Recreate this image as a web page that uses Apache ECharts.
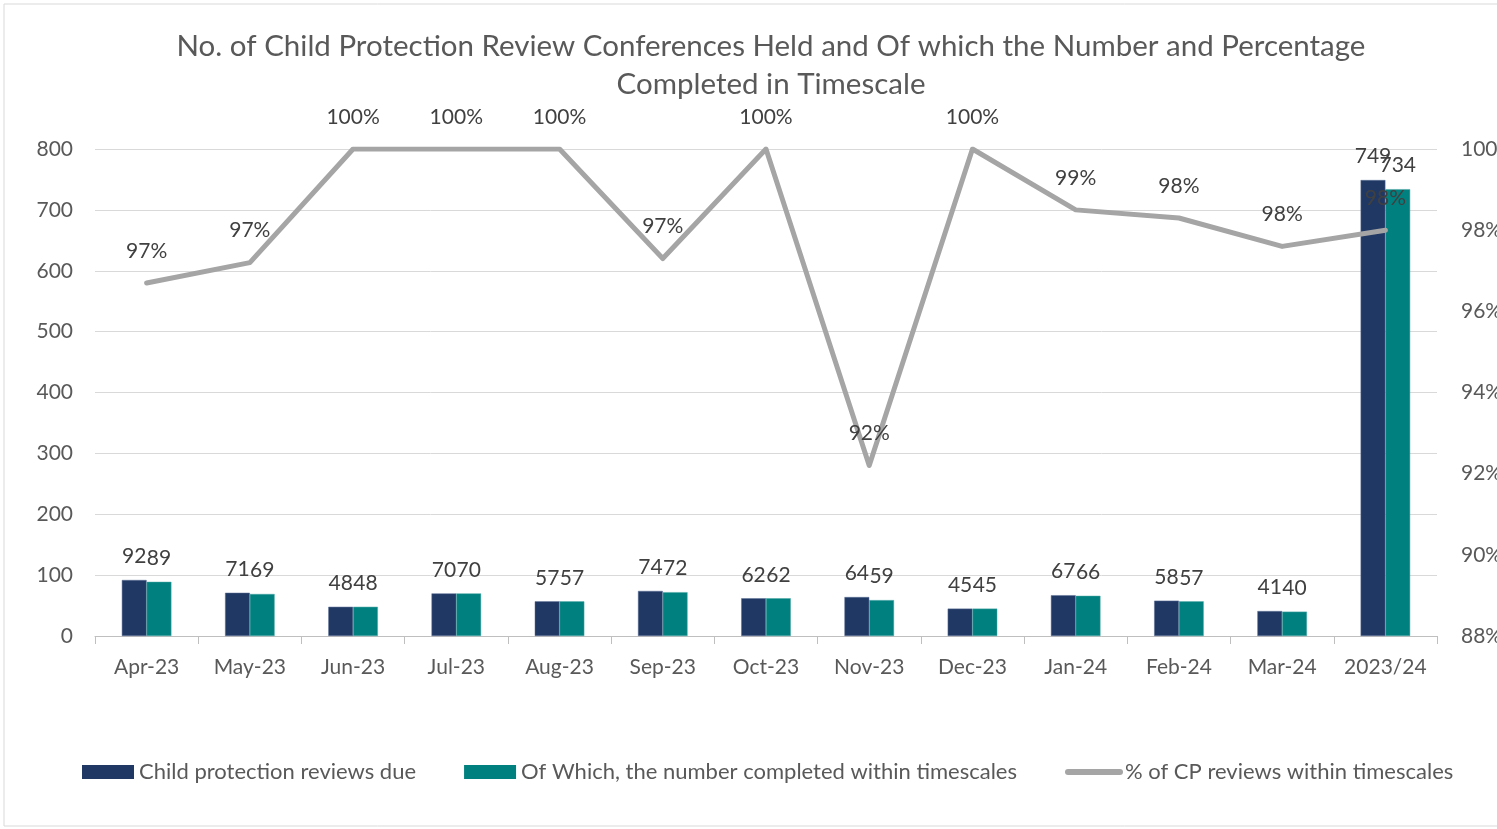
<!DOCTYPE html>
<html lang="en">
<head>
    <meta charset="UTF-8">
    <title>Child Protection Review Conferences</title>
    <style>
        html, body { margin: 0; padding: 0; background: #fff; }
        #chart_main { width: 1497px; height: 829px; }
    </style>
</head>
<body>
<div id="chart_main"></div>
<script src="https://cdn.jsdelivr.net/npm/echarts@6/dist/echarts.min.js"></script>
<script>
    var months = ['Apr-23', 'May-23', 'Jun-23', 'Jul-23', 'Aug-23', 'Sep-23', 'Oct-23',
        'Nov-23', 'Dec-23', 'Jan-24', 'Feb-24', 'Mar-24', '2023/24'];
    var reviewsDue = [92, 71, 48, 70, 57, 74, 62, 64, 45, 67, 58, 41, 749];
    var completedInTime = [89, 69, 48, 70, 57, 72, 62, 59, 45, 66, 57, 40, 734];
    // % within timescales, as plotted
    var pctInTime = [96.7, 97.2, 100, 100, 100, 97.3, 100, 92.2, 100, 98.5, 98.3, 97.6, 98.0];

    var txt = '#595959';
    var font = 'Lato';

    var myChart = echarts.init(document.getElementById('chart_main'));
    myChart.setOption({
        backgroundColor: '#fff',
        textStyle: { fontFamily: font },
        graphic: [{
            type: 'rect',
            shape: { x: 4, y: 4, width: 1510, height: 822 },
            style: { fill: 'none', stroke: '#d9d9d9', lineWidth: 1 },
            silent: true
        }],
        title: {
            text: 'No. of Child Protection Review Conferences Held and Of which the Number and Percentage\nCompleted in Timescale',
            left: 766,
            textAlign: 'center',
            top: 22,
            textStyle: { color: txt, fontSize: 29.5, fontWeight: 'normal', lineHeight: 38, fontFamily: font }
        },
        legend: {
            left: 77,
            top: 756,
            itemWidth: 52,
            itemHeight: 14,
            itemGap: 48,
            textStyle: { color: txt, fontSize: 22, fontFamily: font },
            data: [
                { name: 'Child protection reviews due', icon: 'rect', itemStyle: { borderWidth: 0 } },
                { name: 'Of Which, the number completed within timescales', icon: 'rect', itemStyle: { borderWidth: 0 } },
                { name: '% of CP reviews within timescales', itemStyle: { opacity: 0 }, lineStyle: { width: 6, cap: 'round' } }
            ]
        },
        grid: { left: 95, right: 60, top: 149, bottom: 193, outerBoundsMode: 'none' },
        xAxis: {
            type: 'category',
            data: months,
            axisLine: { lineStyle: { color: '#bfbfbf', width: 1 } },
            axisTick: { show: true, alignWithLabel: false, length: 8, lineStyle: { color: '#bfbfbf' } },
            axisLabel: { color: txt, fontSize: 21, margin: 21, interval: 0 }
        },
        yAxis: [{
            type: 'value',
            min: 0,
            max: 800,
            interval: 100,
            axisLine: { show: false },
            axisTick: { show: false },
            axisLabel: { color: txt, fontSize: 21, margin: 22 },
            splitLine: { lineStyle: { color: '#d9d9d9', width: 1 } }
        }, {
            type: 'value',
            min: 88,
            max: 100,
            interval: 2,
            axisLine: { show: false },
            axisTick: { show: false },
            axisLabel: { color: txt, fontSize: 21, margin: 24, formatter: '{value}%' },
            splitLine: { show: false }
        }],
        series: [{
            name: 'Child protection reviews due',
            type: 'bar',
            data: reviewsDue,
            barWidth: '24%',
            barGap: '0%',
            itemStyle: { color: '#203864', borderColor: '#5a6f96', borderWidth: 0.5 },
            label: { show: true, position: 'top', distance: 13, color: '#404040', fontSize: 21 }
        }, {
            name: 'Of Which, the number completed within timescales',
            type: 'bar',
            data: completedInTime,
            barWidth: '24%',
            itemStyle: { color: '#00807f', borderColor: '#4aa6a5', borderWidth: 0.5 },
            label: { show: true, position: 'top', distance: 13, color: '#404040', fontSize: 21 }
        }, {
            name: '% of CP reviews within timescales',
            type: 'line',
            yAxisIndex: 1,
            data: pctInTime,
            symbol: 'circle',
            symbolSize: 1,
            showSymbol: true,
            lineStyle: { color: '#a5a5a5', width: 5, cap: 'round', join: 'round' },
            itemStyle: { color: '#a5a5a5' },
            z: 3,
            labelLayout: { hideOverlap: false },
            label: {
                show: true,
                position: 'top',
                distance: 21,
                color: '#404040',
                fontSize: 21,
                formatter: function (p) { return Math.round(p.value) + '%'; }
            }
        }]
    });
    window.addEventListener('resize', function () {
        myChart.resize();
    });
</script>
</body>
</html>
